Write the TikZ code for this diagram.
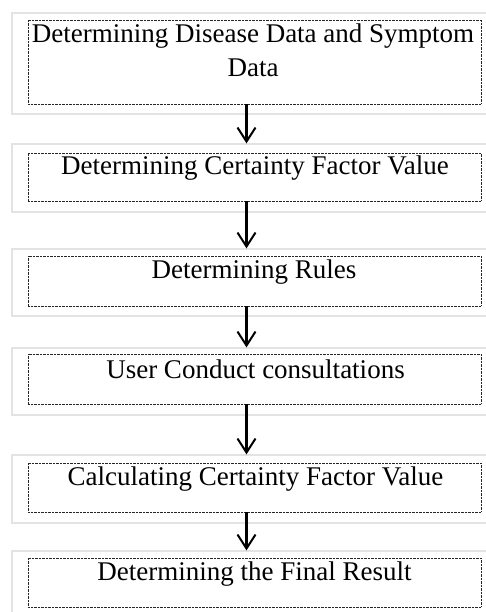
\documentclass[tikz,border=0pt]{standalone}
\usepackage{fontspec}
\setmainfont{Liberation Serif}
\usetikzlibrary{arrows.meta}
\begin{document}
\begin{tikzpicture}[x=1pt,y=-1pt,
  frame/.style={draw=black!11,line width=1.2pt,minimum width=488pt,inner sep=0pt},
  stepbox/.style={draw=black!85,line width=0.9pt,dash pattern=on 0.7pt off 0.7pt,
    minimum width=453pt,inner sep=0pt},
  steptext/.style={font=\fontsize{27}{34}\selectfont,inner sep=0pt,anchor=base,align=center},
  arr/.style={line width=2.2pt,-{Straight Barb[length=14pt,width=18pt,line width=2pt]}}]
\useasboundingbox (0,0) rectangle (486,612);
\clip (0,0) rectangle (486,612);
\fill[white] (0,0) rectangle (486,612);

% light outer frames
\node[frame,minimum height=101pt] (f1) at (256,63.5) {};
\node[frame,minimum height=68pt]  (f2) at (256,178) {};
\node[frame,minimum height=67pt]  (f3) at (256,282.5) {};
\node[frame,minimum height=67pt]  (f4) at (256,381.5) {};
\node[frame,minimum height=68pt]  (f5) at (256,489) {};
\node[frame,minimum height=69pt]  (f6) at (256,585.5) {};

% dotted step boxes
\node[stepbox,minimum height=84pt] (b1) at (254.5,62) {};
\node[stepbox,minimum height=48pt] (b2) at (254.5,177) {};
\node[stepbox,minimum height=50pt] (b3) at (254.5,281) {};
\node[stepbox,minimum height=50pt] (b4) at (254.5,379) {};
\node[stepbox,minimum height=49pt] (b5) at (254.5,487.5) {};
\node[stepbox,minimum height=49pt] (b6) at (254.5,582.5) {};

% step texts (base anchor sits on the last line)
\node[steptext] (t1) at (253,77) {Determining Disease Data and Symptom\\Data};
\node[steptext] (t2) at (255,175) {Determining Certainty Factor Value};
\node[steptext] (t3) at (254,278) {Determining Rules};
\node[steptext] (t4) at (255.5,378) {User Conduct consultations};
\node[steptext] (t5) at (255.5,485) {Calculating Certainty Factor Value};
\node[steptext] (t6) at (254.5,580) {Determining the Final Result};

% connectors
\coordinate (ax) at (246.5,0);
\draw[arr] (b1.south -| ax) -- (f2.north -| ax);
\draw[arr] (b2.south -| ax) -- (f3.north -| ax);
\draw[arr] (b3.south -| ax) -- (f4.north -| ax);
\draw[arr] (b4.south -| ax) -- (f5.north -| ax);
\draw[arr] (b5.south -| ax) -- (f6.north -| ax);
\end{tikzpicture}
\end{document}
